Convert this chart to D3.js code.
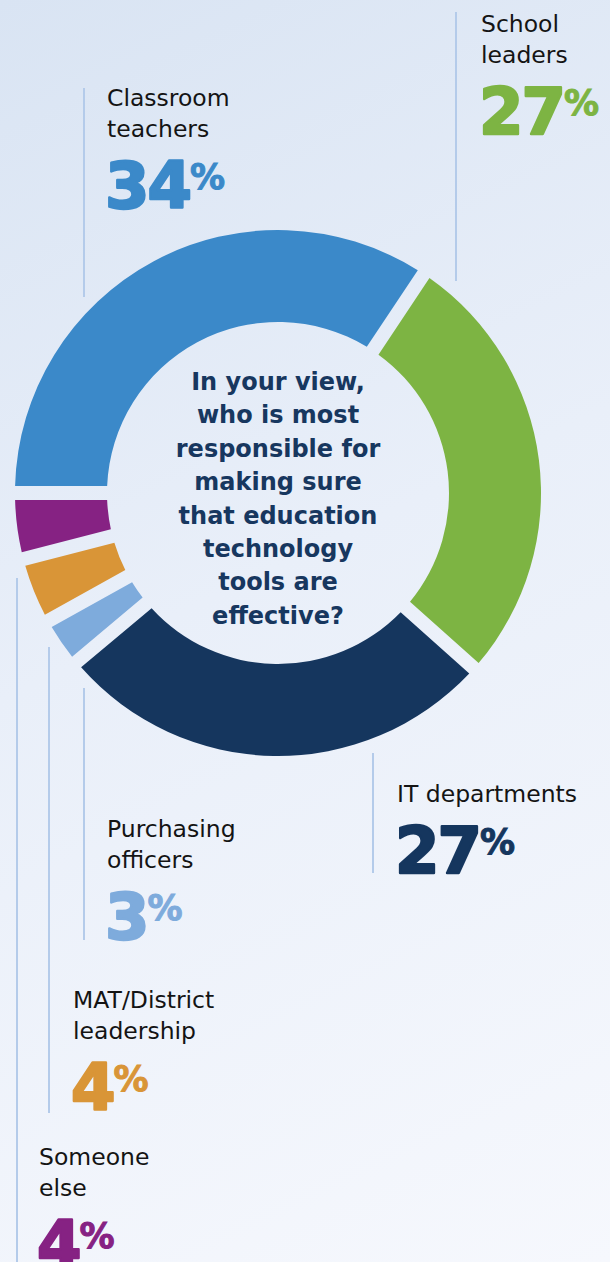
<!DOCTYPE html>
<html>
<head>
<meta charset="utf-8">
<script src="https://cdn.jsdelivr.net/npm/d3@7"></script>
<style>
  html, body { margin: 0; padding: 0; }
  body { width: 610px; height: 1262px; overflow: hidden; }
  svg { display: block; }
</style>
</head>
<body>
<svg id="chart" width="610" height="1262"></svg>
<script>
// Survey answers: who is most responsible for making sure edtech tools are effective
const categories = [
  "Classroom\nteachers",
  "School\nleaders",
  "IT departments",
  "Purchasing\nofficers",
  "MAT/District\nleadership",
  "Someone\nelse"
];
const values = [34, 27, 27, 3, 4, 4];
const question = [
  "In your view,",
  "who is most",
  "responsible for",
  "making sure",
  "that education",
  "technology",
  "tools are",
  "effective?"
];

const palette = ["#3b89c9", "#7db443", "#15365e", "#7eabdc", "#d99537", "#862283"];

// Label blocks: text origin and the vertical guide line beside each block
const labelLayout = [
  { x: 107, y: 106, lineX: 84,  y1: 88,  y2: 297 },
  { x: 481, y: 32,  lineX: 456, y1: 12,  y2: 281 },
  { x: 397, y: 802, lineX: 373, y1: 753, y2: 873 },
  { x: 107, y: 837, lineX: 84,  y1: 688, y2: 940 },
  { x: 73,  y: 1008, lineX: 49, y1: 647, y2: 1113 },
  { x: 39,  y: 1165, lineX: 17, y1: 578, y2: 1262 }
];

const W = 610, H = 1262;
const cx = 278, cy = 493;
const outerR = 263, innerR = 171;

const svg = d3.select("#chart");

// Soft diagonal background wash
const defs = svg.append("defs");
const grad = defs.append("linearGradient")
  .attr("id", "bg")
  .attr("gradientUnits", "userSpaceOnUse")
  .attr("x1", 0).attr("y1", 0).attr("x2", W).attr("y2", H);
grad.append("stop").attr("offset", "0%").attr("stop-color", "#d9e4f3");
grad.append("stop").attr("offset", "45%").attr("stop-color", "#e9eff9");
grad.append("stop").attr("offset", "100%").attr("stop-color", "#f6f8fd");
svg.append("rect").attr("width", W).attr("height", H).attr("fill", "url(#bg)");

const color = d3.scaleOrdinal().domain(d3.range(values.length)).range(palette);

// Guide lines
svg.append("g").selectAll("line")
  .data(labelLayout)
  .join("line")
  .attr("x1", d => d.lineX).attr("x2", d => d.lineX)
  .attr("y1", d => d.y1).attr("y2", d => d.y2)
  .attr("stroke", "#b4cbea")
  .attr("stroke-width", 2);

// Donut
const pie = d3.pie().sort(null).value(d => d).startAngle(-Math.PI / 2).endAngle(1.5 * Math.PI);
const arc = d3.arc()
  .innerRadius(innerR)
  .outerRadius(outerR)
  .padAngle(14 / outerR)
  .padRadius(outerR);

svg.append("g")
  .attr("transform", `translate(${cx},${cy})`)
  .selectAll("path")
  .data(pie(values))
  .join("path")
  .attr("d", arc)
  .attr("fill", (d, i) => color(i));

// Question in the hole
svg.append("g")
  .selectAll("text")
  .data(question)
  .join("text")
  .attr("x", cx)
  .attr("y", (d, i) => 390 + i * 33.4)
  .attr("text-anchor", "middle")
  .attr("font-family", "DejaVu Sans, sans-serif")
  .attr("font-weight", "bold")
  .attr("font-size", 24)
  .attr("fill", "#17375f")
  .text(d => d);

// Category labels with percentages
const labels = svg.append("g");
categories.forEach((name, i) => {
  const L = labelLayout[i];
  const lines = name.split("\n");
  const g = labels.append("g");
  lines.forEach((t, j) => {
    g.append("text")
      .attr("x", L.x)
      .attr("y", L.y + j * 31)
      .attr("font-family", "DejaVu Sans, sans-serif")
      .attr("font-size", 23.5)
      .attr("fill", "#141414")
      .text(t);
  });
  const numBase = L.y + (lines.length - 1) * 31 + 71;
  const num = g.append("text")
    .attr("x", L.x - 2)
    .attr("y", numBase)
    .attr("font-family", "DejaVu Sans, sans-serif")
    .attr("font-weight", "bold")
    .attr("font-size", 64)
    .attr("letter-spacing", -2)
    .attr("fill", color(i))
    .attr("stroke", color(i))
    .attr("stroke-width", 2.4)
    .attr("stroke-linejoin", "round")
    .text(values[i]);
  const w = num.node().getComputedTextLength();
  g.append("text")
    .attr("x", L.x - 2 + w)
    .attr("y", numBase - 19)
    .attr("font-family", "DejaVu Sans, sans-serif")
    .attr("font-weight", "bold")
    .attr("font-size", 35)
    .attr("fill", color(i))
    .attr("stroke", color(i))
    .attr("stroke-width", 1)
    .text("%");
});
</script>
</body>
</html>
